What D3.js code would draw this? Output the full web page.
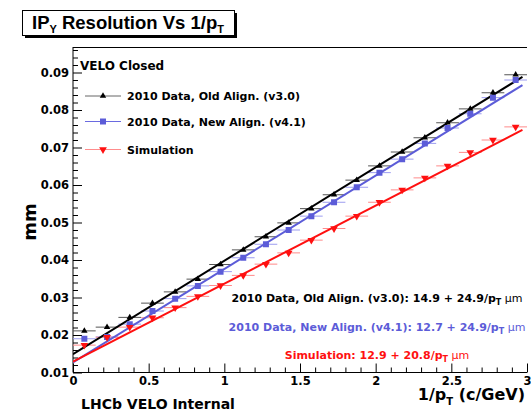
<!DOCTYPE html>
<html>
<head>
<meta charset="utf-8" />
<title>IPy resolution</title>
<script src="https://cdn.jsdelivr.net/npm/d3@7/dist/d3.min.js"></script>
<style>
	body { margin: 0; background: #fff; }
	text { font-family: "DejaVu Sans", sans-serif; font-weight: bold; }
	.title { font-family: "Liberation Sans", Arial, Helvetica, sans-serif; }
</style>
</head>
<body>
<div id="chart"></div>
<script>

// bin centres in 1/pT (c/GeV), bin half width 0.075
const invPt = [0.075, 0.225, 0.375, 0.525, 0.675, 0.825, 0.975, 1.125, 1.275, 1.425,
	1.575, 1.725, 1.875, 2.025, 2.175, 2.325, 2.475, 2.625, 2.775, 2.925];
const binHalf = 0.075;

// IPy resolution in mm
const oldAlign = [0.0211, 0.0221, 0.0247, 0.0285, 0.0315, 0.0349, 0.0388, 0.0427, 0.0462, 0.0499,
	0.0537, 0.0574, 0.0613, 0.0651, 0.0688, 0.0726, 0.0766, 0.0803, 0.0846, 0.0894];
const newAlign = [0.0190, 0.0195, 0.0229, 0.0264, 0.0297, 0.0331, 0.0369, 0.0406, 0.0442, 0.0480,
	0.0517, 0.0554, 0.0594, 0.0633, 0.0669, 0.0711, 0.0752, 0.0790, 0.0833, 0.0880];
const simulation = [0.0173, 0.0194, 0.0221, 0.0246, 0.0273, 0.0303, 0.0332, 0.0359, 0.0389, 0.0419,
	0.0453, 0.0484, 0.0517, 0.0554, 0.0587, 0.0619, 0.0651, 0.0687, 0.0720, 0.0755];

// fit results (um): intercept + slope / pT
const fitIntercept = [14.9, 12.7, 12.9];
const fitSlope = [24.9, 24.9, 20.8];

const seriesNames = ["2010 Data, Old Align. (v3.0)", "2010 Data, New Align. (v4.1)", "Simulation"];
const yTicks = [0.01, 0.02, 0.03, 0.04, 0.05, 0.06, 0.07, 0.08, 0.09];
const xTicks = [0, 0.5, 1, 1.5, 2, 2.5, 3];

const width = 531, height = 412;
const padL = 73, padR = 527, padT = 47, padB = 372.5;

const colors = ["#000000", "#5c5cd8", "#ff1010"];
const barColors = ["#555555", "#9c9cf0", "#ff8a8a"];

let svg = d3.select("#chart").append("svg")
	.attr("width", width)
	.attr("height", height);

let x = d3.scaleLinear().domain([0, 3]).range([padL, padR]);
let y = d3.scaleLinear().domain([0.01, 0.0968]).range([padB, padT]);

// title box with shadow
svg.append("rect").attr("x", 25).attr("y", 13).attr("width", 212).attr("height", 25).attr("fill", "#000");
svg.append("rect").attr("x", 22.5).attr("y", 10.5).attr("width", 212).attr("height", 25)
	.attr("fill", "#fff").attr("stroke", "#000").attr("stroke-width", 1);
let title = svg.append("text").attr("class", "title").attr("x", 32).attr("y", 29).attr("font-size", 18.5);
title.append("tspan").text("IP");
title.append("tspan").attr("font-size", 11).attr("dy", 4).text("Y");
title.append("tspan").attr("dy", -4).text(" Resolution Vs 1/p");
title.append("tspan").attr("font-size", 11).attr("dy", 4).text("T");

// frame top line
svg.append("line").attr("x1", padL).attr("x2", padR).attr("y1", padT + 0.5).attr("y2", padT + 0.5)
	.attr("stroke", "#000");

// axes
let yMinor = d3.range(0.012, 0.0969, 0.002).filter(v => Math.abs(Math.round(v * 100) - v * 100) > 1e-6);
svg.append("g").attr("transform", `translate(${padL},0)`)
	.call(d3.axisLeft(y).tickValues(yMinor).tickSize(-5).tickSizeOuter(0).tickFormat(""))
	.call(g => g.select(".domain").remove());
svg.append("g").attr("transform", `translate(${padL},0)`)
	.call(d3.axisLeft(y).tickValues(yTicks).tickSize(-9).tickSizeOuter(0).tickPadding(4).tickFormat(d3.format(".2f")))
	.call(g => g.selectAll("text").attr("font-size", 11.5).attr("font-family", null).attr("fill", "#000"))
	.call(g => g.select(".domain").attr("d", `M0,${padT}V${padB}`));

let xMinor = d3.range(0.1, 3.0, 0.1).filter(v => Math.abs(v * 2 - Math.round(v * 2)) > 1e-6);
svg.append("g").attr("transform", `translate(0,${padB})`)
	.call(d3.axisBottom(x).tickValues(xMinor).tickSize(-5).tickSizeOuter(0).tickFormat(""))
	.call(g => g.select(".domain").remove());
svg.append("g").attr("transform", `translate(0,${padB})`)
	.call(d3.axisBottom(x).tickValues(xTicks).tickSize(-9).tickSizeOuter(0).tickPadding(4).tickFormat(d3.format("")))
	.call(g => g.selectAll("text").attr("font-size", 11.5).attr("font-family", null).attr("fill", "#000"))
	.call(g => g.select(".domain").attr("d", `M${padL},0H${padR}`));

// axis titles
svg.append("text").attr("transform", "translate(36,222) rotate(-90)")
	.attr("text-anchor", "middle").attr("font-size", 18).text("mm");
let xt = svg.append("text").attr("x", 525).attr("y", 400).attr("text-anchor", "end").attr("font-size", 16);
xt.append("tspan").text("1/p");
xt.append("tspan").attr("font-size", 10).attr("dy", 5).text("T");
xt.append("tspan").attr("dy", -5).text(" (c/GeV)");

svg.append("text").attr("x", 81).attr("y", 409).attr("font-size", 14).text("LHCb VELO Internal");

// plot content
let plot = svg.append("g");
plot.append("clipPath").attr("id", "clip").append("rect")
	.attr("x", padL).attr("y", padT).attr("width", padR - padL).attr("height", padB - padT);
let body = plot.append("g").attr("clip-path", "url(#clip)");

const allSeries = [oldAlign, newAlign, simulation];
const symbols = [
	d3.symbol().type(d3.symbolTriangle).size(18),
	d3.symbol().type(d3.symbolSquare).size(36),
	d3.symbol().type(d3.symbolTriangle).size(26)
];
const rot = [0, 0, 180];

// horizontal bin-width error bars
allSeries.forEach((vals, s) => {
	body.append("g").selectAll("line")
		.data(vals)
		.enter().append("line")
		.attr("x1", (d, i) => x(invPt[i] - binHalf))
		.attr("x2", (d, i) => x(invPt[i] + binHalf))
		.attr("y1", d => y(d))
		.attr("y2", d => y(d))
		.attr("stroke", barColors[s])
		.attr("stroke-width", 1);
});

// fit lines
allSeries.forEach((vals, s) => {
	const f = v => (fitIntercept[s] + fitSlope[s] * v) / 1000;
	body.append("line")
		.attr("x1", x(0)).attr("y1", y(f(0)))
		.attr("x2", x(2.97)).attr("y2", y(f(2.97)))
		.attr("stroke", colors[s])
		.attr("stroke-width", 2);
});

// markers
allSeries.forEach((vals, s) => {
	body.append("g").selectAll("path")
		.data(vals)
		.enter().append("path")
		.attr("d", symbols[s])
		.attr("transform", (d, i) => `translate(${x(invPt[i])},${y(d)}) rotate(${rot[s]})`)
		.attr("fill", colors[s]);
});

// legend
svg.append("text").attr("x", 80).attr("y", 70).attr("font-size", 12).text("VELO Closed");
const legendY = [96, 121.5, 149.5];
const legendLine = ["#666666", "#6a6ae0", "#ff8c8c"];
seriesNames.forEach((name, s) => {
	svg.append("line").attr("x1", 85).attr("x2", 121)
		.attr("y1", legendY[s]).attr("y2", legendY[s])
		.attr("stroke", legendLine[s]).attr("stroke-width", 1);
	svg.append("path").attr("d", symbols[s])
		.attr("transform", `translate(103,${legendY[s]}) rotate(${rot[s]})`)
		.attr("fill", colors[s]);
	svg.append("text").attr("x", 127).attr("y", legendY[s] + 4).attr("font-size", 11).text(name);
});

// fit result labels
const fitLabelY = [302, 330.5, 359];
seriesNames.forEach((name, s) => {
	let t = svg.append("text").attr("x", 377).attr("y", fitLabelY[s])
		.attr("text-anchor", "middle").attr("font-size", 11).attr("fill", colors[s]);
	t.append("tspan").text(`${name}: ${fitIntercept[s].toFixed(1)} + ${fitSlope[s].toFixed(1)}/p`);
	t.append("tspan").attr("font-size", 8).attr("dy", 3).text("T");
	t.append("tspan").attr("dy", -3).attr("font-weight", "normal").text(" \u03bcm");
});

</script>
</body>
</html>
